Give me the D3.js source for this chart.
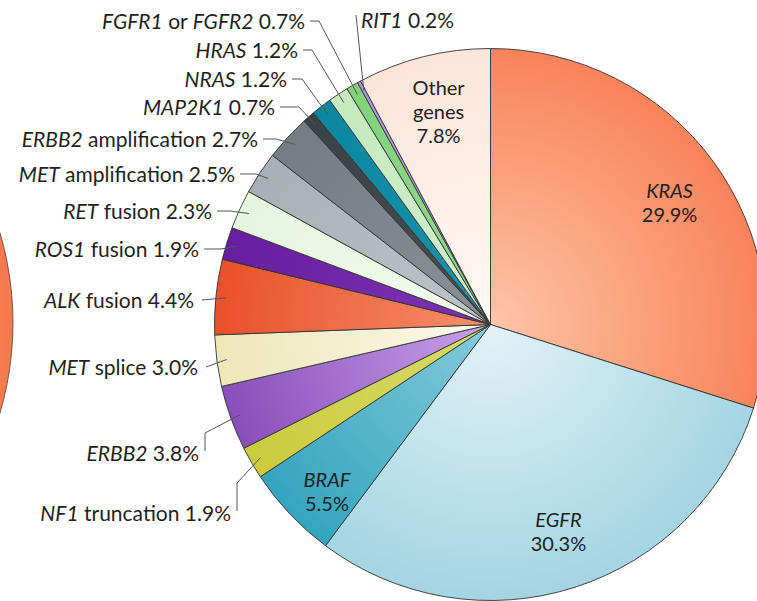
<!DOCTYPE html>
<html>
<head>
<meta charset="utf-8">
<script src="https://cdn.jsdelivr.net/npm/d3@7"></script>
<style>
  html, body { margin: 0; padding: 0; background: #ffffff; }
  svg { display: block; }
  text { font-family: Lato, "Open Sans", sans-serif; fill: #231f20; }
</style>
</head>
<body>
<svg id="chart" width="757" height="601"></svg>
<script>
// ---------- data ----------
const genes = ["KRAS", "EGFR", "BRAF", "NF1 truncation", "ERBB2", "MET splice", "ALK fusion",
  "ROS1 fusion", "RET fusion", "MET amplification", "ERBB2 amplification", "MAP2K1",
  "NRAS", "HRAS", "FGFR1 or FGFR2", "RIT1", "Other genes"];
const percents = [29.9, 30.3, 5.5, 1.9, 3.8, 3.0, 4.4, 1.9, 2.3, 2.5, 2.7, 0.7, 1.2, 1.2, 0.7, 0.2, 7.8];

// ---------- styles ----------
const innerColors = ["#fdc6a7", "#e3f2f7", "#86cbdc", "#d9da6c", "#c7a2e8", "#fbf9ec", "#f6906a",
  "#7d34b3", "#f4fbf1", "#bec4c8", "#889195", "#465053", "#1793ab", "#d0efcb", "#95da8f", "#c2a8e7", "#fffaf7"];
const outerColors = ["#f9835a", "#a4d5e3", "#33a5be", "#cccb3c", "#8a4ebb", "#eee7b9", "#e9512a",
  "#681c9f", "#e5f5df", "#a9b0b5", "#737d82", "#394245", "#0a869e", "#c4eabe", "#82d17b", "#b296de", "#fde5d8"];

const W = 757, H = 601;
const cx = 490.5, cy = 324.5, R = 276;

const svg = d3.select("#chart");
const defs = svg.append("defs");

// gradients
percents.forEach((p, i) => {
  const g = defs.append("radialGradient")
    .attr("id", "grad" + i)
    .attr("gradientUnits", "userSpaceOnUse")
    .attr("cx", 0).attr("cy", 0).attr("r", R);
  g.append("stop").attr("offset", "0%").attr("stop-color", innerColors[i]);
  g.append("stop").attr("offset", "100%").attr("stop-color", outerColors[i]);
});

// partial neighbouring pie at left edge
const lg = defs.append("radialGradient").attr("id", "gradLeft")
  .attr("gradientUnits", "userSpaceOnUse").attr("cx", -305).attr("cy", 323).attr("r", 318);
lg.append("stop").attr("offset", "0%").attr("stop-color", "#fdc6a7");
lg.append("stop").attr("offset", "100%").attr("stop-color", "#f7794c");
svg.append("circle").attr("cx", -305).attr("cy", 323).attr("r", 318)
  .attr("fill", "url(#gradLeft)").attr("stroke", "#444").attr("stroke-width", 0.8);

const g = svg.append("g").attr("transform", `translate(${cx},${cy})`);

const pie = d3.pie().sort(null).value(d => d).startAngle(0).endAngle(2 * Math.PI);
const arcs = pie(percents);
const arc = d3.arc().innerRadius(0).outerRadius(R);

g.selectAll("path.slice").data(arcs).join("path")
  .attr("class", "slice")
  .attr("d", arc)
  .attr("fill", (d, i) => `url(#grad${i})`)
  .attr("stroke", "#333")
  .attr("stroke-width", 0.9)
  .attr("stroke-linejoin", "round");

// helper to write a label with italic gene symbols
function writeLabel(sel, text) {
  const words = text.split(" ");
  words.forEach((w, k) => {
    const it = /^[A-Z][A-Z0-9]+$/.test(w);
    sel.append("tspan").attr("font-style", it ? "italic" : "normal").text((k > 0 ? " " : "") + w);
  });
}
const fmt = v => v.toFixed(1) + "%";

// ---------- outside labels ----------
const FS = 21;
const leaderArc = d3.arc().innerRadius(266).outerRadius(266);
const outside = [
  { gene: "FGFR1 or FGFR2", x: 305, y: 21, elbow: 319 },
  { gene: "HRAS", x: 298, y: 50, elbow: 312 },
  { gene: "NRAS", x: 287, y: 79, elbow: 302 },
  { gene: "MAP2K1", x: 275, y: 107, elbow: 299 },
  { gene: "ERBB2 amplification", x: 258, y: 139, elbow: 276 },
  { gene: "MET amplification", x: 235, y: 174, elbow: 256 },
  { gene: "RET fusion", x: 212, y: 211, elbow: 230 },
  { gene: "ROS1 fusion", x: 199, y: 249, elbow: 221 },
  { gene: "ALK fusion", x: 194, y: 300 },
  { gene: "MET splice", x: 198, y: 367 },
  { gene: "ERBB2", x: 199, y: 453, vx: 205, vy: 433 },
  { gene: "NF1 truncation", x: 231, y: 513, vx: 237, vy: 483 },
  { gene: "RIT1", x: 361, y: 20, anchor: "start", vx: 356, vy: 15 }
];

const lines = svg.append("g").attr("fill", "none").attr("stroke", "#555").attr("stroke-width", 1);
outside.forEach(o => {
  const i = genes.indexOf(o.gene);
  const c = leaderArc.centroid(arcs[i]);
  const ex = cx + c[0], ey = cy + c[1];
  let pts;
  if (o.anchor === "start") {
    pts = [[o.vx, o.vy], [ex, ey]];
  } else if (o.vx !== undefined) {
    pts = [[o.vx, o.y - 2], [o.vx, o.vy], [ex, ey]];
  } else if (o.elbow !== undefined) {
    pts = [[o.x + 5, o.y], [o.elbow, o.y], [ex, ey]];
  } else {
    pts = [[o.x + 8, o.y], [ex, ey]];
  }
  lines.append("path").attr("d", d3.line()(pts));
  const t = svg.append("text")
    .attr("x", o.x).attr("y", o.y + 7.5)
    .attr("text-anchor", o.anchor || "end")
    .attr("font-size", FS);
  writeLabel(t, o.gene + " " + fmt(percents[i]));
});

// ---------- inside labels ----------
const inside = [
  { gene: "KRAS", r: 212, dx: 8, dy: 4 },
  { gene: "EGFR", r: 222, dx: 0, dy: -4 },
  { gene: "BRAF", r: 236, dx: 8, dy: 5 },
  { gene: "Other genes", r: 214, dx: 0, dy: -5 }
];
inside.forEach(o => {
  const i = genes.indexOf(o.gene);
  const c = d3.arc().innerRadius(o.r).outerRadius(o.r).centroid(arcs[i]);
  const x = cx + c[0] + o.dx, y = cy + c[1] + o.dy;
  const words = o.gene.split(" ").concat([fmt(percents[i])]);
  const lh = 24;
  words.forEach((w, k) => {
    svg.append("text").attr("text-anchor", "middle").attr("font-size", 20)
      .attr("x", x)
      .attr("y", y + 7 + (k - (words.length - 1) / 2) * lh)
      .attr("font-style", /^[A-Z][A-Z0-9]+$/.test(w) ? "italic" : "normal")
      .text(w);
  });
});
</script>
</body>
</html>
